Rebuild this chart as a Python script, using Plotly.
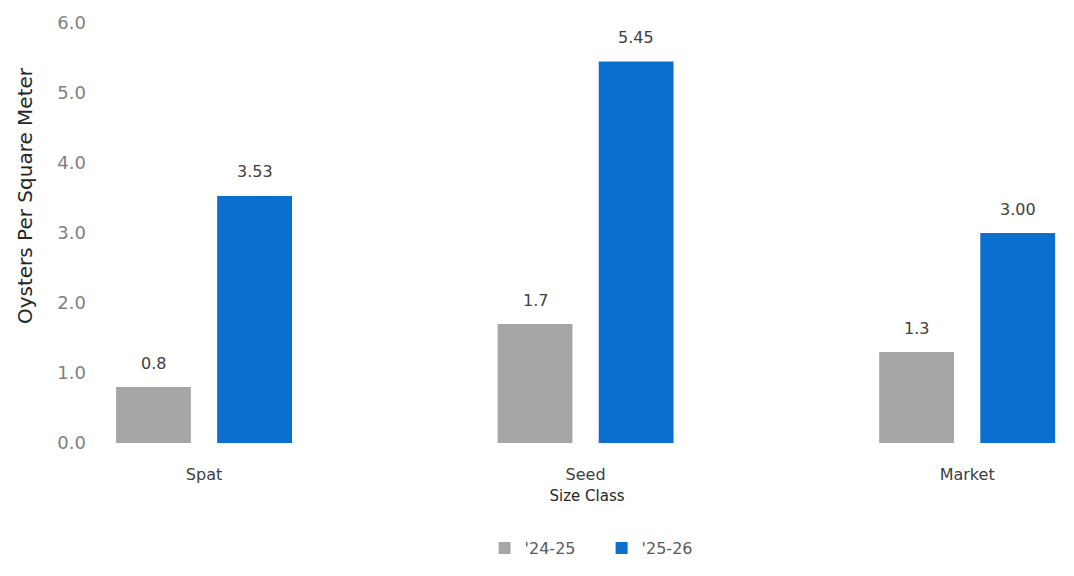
import plotly.graph_objects as go

categories = ["Spat", "Seed", "Market"]
series_names = ["'24-25", "'25-26"]
values_2425 = [0.8, 1.7, 1.3]
values_2526 = [3.53, 5.45, 3.00]
label_formats = ["{:.1f}", "{:.2f}"]
y_ticks = [0, 1, 2, 3, 4, 5, 6]
y_tick_labels = ["0.0", "1.0", "2.0", "3.0", "4.0", "5.0", "6.0"]

FONT = "DejaVu Sans"
gray = "#A6A6A6"
blue = "#0B6FCF"

fig = go.Figure()
fig.add_trace(go.Bar(
    x=categories, y=values_2425, name=series_names[0],
    marker=dict(color=gray, line=dict(width=0)),
))
fig.add_trace(go.Bar(
    x=categories, y=values_2526, name=series_names[1],
    marker=dict(color=blue, line=dict(width=0)),
))

# data labels above bars (offset horizontally to each bar in its group)
for vals, fmt, xs in [(values_2425, label_formats[0], -50.5), (values_2526, label_formats[1], 50.5)]:
    for c, v in zip(categories, vals):
        fig.add_annotation(
            x=c, y=v, xref="x", yref="y", text=fmt.format(v),
            showarrow=False, xshift=xs, yshift=24, yanchor="middle",
            font=dict(family=FONT, size=16, color="#404040"),
        )

# y-axis title (sits above the plot-area centre in the reference)
fig.add_annotation(
    text="Oysters Per Square Meter", textangle=-90,
    xref="paper", yref="paper", x=-0.077, y=0.588,
    xanchor="center", yanchor="middle", showarrow=False,
    font=dict(family=FONT, size=20, color="#262626"),
)

fig.update_layout(
    width=1074, height=576,
    paper_bgcolor="white", plot_bgcolor="white",
    margin=dict(l=92, r=8, t=15, b=141, autoexpand=False),
    barmode="group", bargap=0.47, bargroupgap=0.26,
    font=dict(family=FONT, size=16, color="#595959"),
    showlegend=True,
    legend=dict(
        orientation="h", xref="paper", x=0.515, xanchor="center",
        yref="container", y=0.0625, yanchor="middle",
        font=dict(family=FONT, size=16, color="#595959"),
        entrywidth=72, entrywidthmode="pixels", traceorder="normal",
    ),
    xaxis=dict(
        type="category", range=[-0.2726, 2.28], automargin=False,
        showgrid=False, showline=False, zeroline=False, ticks="",
        ticklabelstandoff=20,
        tickfont=dict(family=FONT, size=16, color="#404040"),
        title=dict(text="Size Class", standoff=7,
                   font=dict(family=FONT, size=15, color="#262626")),
    ),
    yaxis=dict(
        range=[0, 6], tickvals=y_ticks, ticktext=y_tick_labels, automargin=False,
        showgrid=False, showline=False, zeroline=False, ticks="",
        ticklabelstandoff=13,
        tickfont=dict(family=FONT, size=18, color="#7F7F7F"),
    ),
)

fig.write_html("out.html")
